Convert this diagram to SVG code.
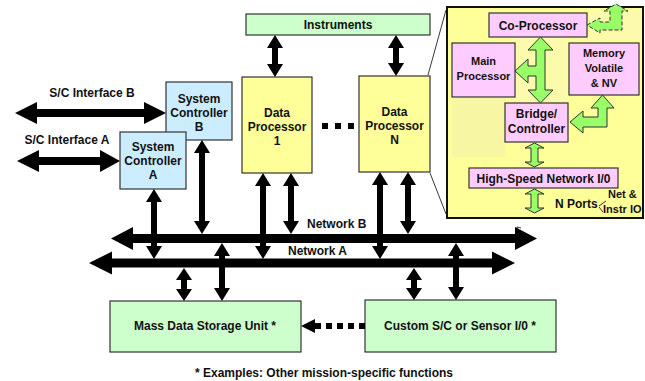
<svg xmlns="http://www.w3.org/2000/svg" width="645" height="381" viewBox="0 0 645 381">
  <style>
    text { font-family: "Liberation Sans", Arial, sans-serif; font-weight: bold; fill: #111; }
    .t12 { font-size: 12px; }
    .t11 { font-size: 11px; }
    .mid { text-anchor: middle; }
    .box { stroke: #333; stroke-width: 1.2; }
    .blue { fill: #ccecff; }
    .yellow { fill: #ffff99; }
    .green { fill: #ccffcc; }
    .pink { fill: #ffccff; }
    .bus { fill: #000; }
    .garrow { fill: #99ff66; stroke: #333; stroke-width: 1; stroke-linejoin: miter; }
    .thin { stroke: #222; stroke-width: 0.9; fill: none; }
  </style>

  <rect width="645" height="381" fill="#fff"/>

  <!-- zoom lines from Data Processor N to the detail panel -->
  <g id="zoom-lines">
    <line class="thin" x1="428" y1="75" x2="446" y2="10"/>
    <line class="thin" x1="430" y1="173" x2="446" y2="214"/>
  </g>

  <!-- detail panel: inside a data processor -->
  <g id="detail-panel">
    <rect x="447" y="7" width="196" height="211" fill="#ffff99" stroke="#111" stroke-width="2"/>
    <rect x="512" y="33" width="55" height="70" fill="#fbfbab"/>
    <rect x="590" y="10" width="52" height="30" fill="#fbfbab"/>
    <rect x="452" y="98" width="53" height="59" fill="#f6f6a3"/>
  </g>

  <g id="co-processor">
    <rect class="box pink" x="489" y="13" width="98" height="24"/>
    <text class="t12 mid" x="538" y="30">Co-Processor</text>
  </g>
  <g id="main-processor">
    <rect class="box pink" x="452" y="43" width="63" height="54"/>
    <text class="t11 mid" x="483.5" y="65">Main</text>
    <text class="t11 mid" x="483.5" y="80">Processor</text>
  </g>
  <g id="memory">
    <rect class="box pink" x="569" y="43" width="70" height="52"/>
    <text class="t11 mid" x="604" y="57">Memory</text>
    <text class="t11 mid" x="604" y="72">Volatile</text>
    <text class="t11 mid" x="604" y="87">&amp; NV</text>
  </g>
  <g id="bridge-controller">
    <rect class="box pink" x="505" y="103" width="63" height="39"/>
    <text class="t12 mid" x="536.5" y="118">Bridge/</text>
    <text class="t12 mid" x="536.5" y="133">Controller</text>
  </g>
  <g id="high-speed-network-io">
    <rect class="box pink" x="469" y="168" width="149" height="20"/>
    <text class="t12 mid" x="543.5" y="183">High-Speed Network I/0</text>
  </g>
  <g id="port-labels">
    <text class="t12" x="555" y="208">N Ports</text>
    <text class="t11" x="608" y="198">Net &amp;</text>
    <text class="t11" x="603" y="213">Instr IO</text>
    <path class="thin" d="M599,206 L606,201 M599,207 L603,212"/>
  </g>

  <!-- green internal links of the detail panel -->
  <g id="panel-connectors">
    <path class="garrow" d="M540.5,37 L553,50 L545,50 L545,90 L553,90 L540.5,103 L528,90 L536,90 L536,76 L528,76 L528,83 L515,71 L528,59 L528,66 L536,66 L536,50 L528,50 Z"/>
    <path class="garrow" d="M602.5,95 L614,108 L607,108 L607,127 L583,127 L583,133 L570,122 L583,111 L583,117 L598,117 L598,108 L591,108 Z"/>
    <path class="garrow" d="M534.5,143 L544,148 L538,148 L538,162 L544,162 L534.5,167 L525,162 L531,162 L531,148 L525,148 Z"/>
    <path class="garrow" d="M534.5,189 L544,194 L538,194 L538,208 L544,208 L534.5,213 L525,208 L531,208 L531,194 L525,194 Z"/>
    <path class="garrow" stroke-dasharray="4 2" stroke-width="1.4" d="M587,25 L600,18 L600,22 L610,22 L610,11 L604,11 L616,4 L628,11 L622,11 L622,30 L600,30 L600,33 Z"/>
    <path class="thin" d="M517,231 L517,227 L521,228"/>
  </g>

  <!-- main system nodes -->
  <g id="instruments">
    <rect class="box green" x="246" y="14" width="184" height="21"/>
    <text class="t12 mid" x="338" y="29">Instruments</text>
  </g>
  <g id="data-processor-1">
    <rect class="box yellow" x="242" y="77" width="70" height="96"/>
    <text class="t12 mid" x="277" y="117">Data</text>
    <text class="t12 mid" x="277" y="131">Processor</text>
    <text class="t12 mid" x="277" y="145">1</text>
  </g>
  <g id="data-processor-n">
    <rect class="box yellow" x="359" y="76" width="71" height="96"/>
    <text class="t12 mid" x="394.5" y="116">Data</text>
    <text class="t12 mid" x="394.5" y="130">Processor</text>
    <text class="t12 mid" x="394.5" y="144">N</text>
  </g>
  <g id="system-controller-b">
    <rect class="box blue" x="166" y="82" width="66" height="58"/>
    <text class="t12 mid" x="199" y="103">System</text>
    <text class="t12 mid" x="199" y="117">Controller</text>
    <text class="t12 mid" x="199" y="131">B</text>
  </g>
  <g id="system-controller-a">
    <rect class="box blue" x="120" y="132" width="66" height="57"/>
    <text class="t12 mid" x="153" y="151">System</text>
    <text class="t12 mid" x="153" y="165">Controller</text>
    <text class="t12 mid" x="153" y="179">A</text>
  </g>
  <g id="mass-data-storage">
    <rect class="box green" x="110" y="301" width="191" height="51"/>
    <text class="t12 mid" x="205" y="330">Mass Data Storage Unit *</text>
  </g>
  <g id="custom-io">
    <rect class="box green" x="365" y="300" width="191" height="52"/>
    <text class="t12 mid" x="460" y="330">Custom S/C or Sensor I/0 *</text>
  </g>

  <!-- buses, links and their labels -->
  <g id="connectors">
    <!-- spacecraft interfaces -->
    <path class="bus" d="M15,113 L37,102 L37,109 L144,109 L144,102 L166,113 L144,124 L144,117 L37,117 L37,124 Z"/>
    <path class="bus" d="M17,161 L39,150 L39,157 L100,157 L100,150 L120,161 L100,172 L100,165 L39,165 L39,172 Z"/>
    <!-- network B and network A -->
    <path class="bus" d="M111,238.5 L133,227 L133,234 L515,234 L515,227 L537,238.5 L515,250 L515,243 L133,243 L133,250 Z"/>
    <path class="bus" d="M89,263 L112,251.5 L112,258.5 L492,258.5 L492,251.5 L515,263 L492,274.5 L492,267.5 L112,267.5 L112,274.5 Z"/>
    <!-- vertical double-headed links -->
    <path class="bus" d="M275,35 L283,48 L278,48 L278,64 L283,64 L275,77 L267,64 L272,64 L272,48 L267,48 Z"/>
    <path class="bus" d="M396,35 L404,48 L399,48 L399,63 L404,63 L396,76 L388,63 L393,63 L393,48 L388,48 Z"/>
    <path class="bus" d="M154,189 L162,202 L157,202 L157,246 L162,246 L154,259 L146,246 L151,246 L151,202 L146,202 Z"/>
    <path class="bus" d="M202,140 L210,153 L205,153 L205,221 L210,221 L202,234 L194,221 L199,221 L199,153 L194,153 Z"/>
    <path class="bus" d="M222,243 L230,256 L225,256 L225,288 L230,288 L222,301 L214,288 L219,288 L219,256 L214,256 Z"/>
    <path class="bus" d="M184,268 L192,280 L187,280 L187,289 L192,289 L184,301 L176,289 L181,289 L181,280 L176,280 Z"/>
    <path class="bus" d="M263,173 L271,186 L266,186 L266,246 L271,246 L263,259 L255,246 L260,246 L260,186 L255,186 Z"/>
    <path class="bus" d="M291,173 L299,186 L294,186 L294,221 L299,221 L291,234 L283,221 L288,221 L288,186 L283,186 Z"/>
    <path class="bus" d="M380,172 L388,185 L383,185 L383,246 L388,246 L380,259 L372,246 L377,246 L377,185 L372,185 Z"/>
    <path class="bus" d="M408,172 L416,185 L411,185 L411,221 L416,221 L408,234 L400,221 L405,221 L405,185 L400,185 Z"/>
    <path class="bus" d="M456,243 L464,256 L459,256 L459,287 L464,287 L456,300 L448,287 L453,287 L453,256 L448,256 Z"/>
    <path class="bus" d="M414,268 L422,280 L417,280 L417,288 L422,288 L414,300 L406,288 L411,288 L411,280 L406,280 Z"/>
    <!-- dotted link from custom I/O to mass storage -->
    <line x1="365" y1="326" x2="314" y2="326" stroke="#000" stroke-width="6" stroke-dasharray="6 5"/>
    <path class="bus" d="M301,326 L315,319 L315,333 Z"/>
    <!-- ellipsis between data processors -->
    <rect class="bus" x="322" y="123" width="6" height="6"/>
    <rect class="bus" x="335" y="123" width="6" height="6"/>
    <rect class="bus" x="348" y="123" width="6" height="6"/>
    <text class="t12 mid" x="92" y="97">S/C Interface B</text>
    <text class="t12 mid" x="67" y="144">S/C Interface A</text>
    <text class="t12" x="307" y="228">Network B</text>
    <text class="t12" x="288" y="255">Network A</text>
  </g>

  <text class="t12 mid" x="324" y="377">* Examples: Other mission-specific functions</text>
</svg>
